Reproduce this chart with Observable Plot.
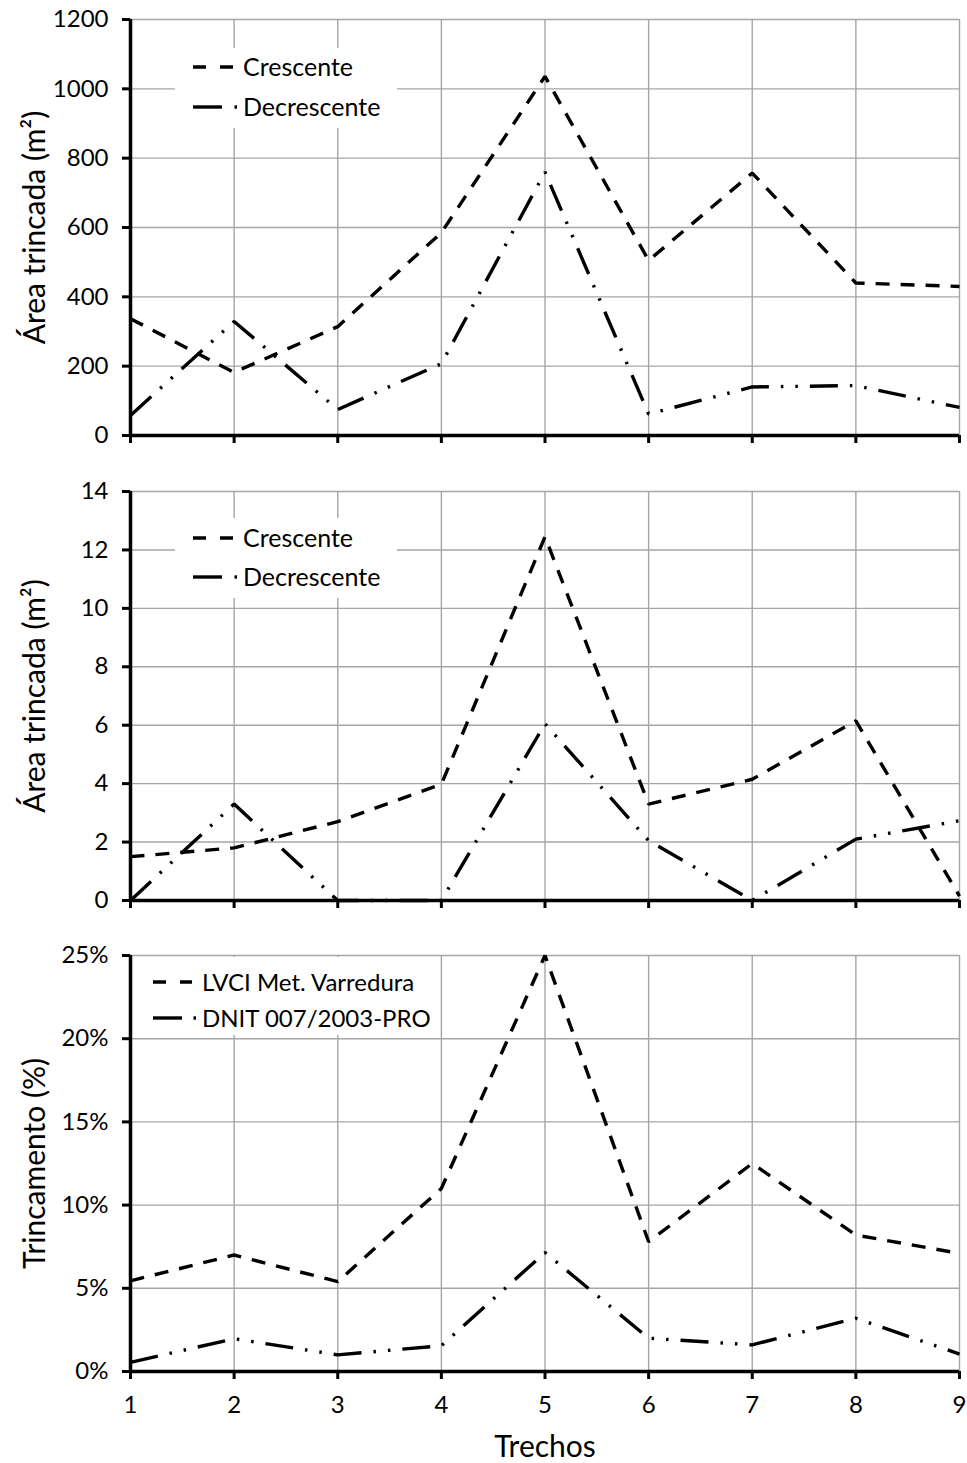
<!DOCTYPE html>
<html>
<head>
<meta charset="utf-8">
<script src="https://cdn.jsdelivr.net/npm/d3@7"></script>
<script src="https://cdn.jsdelivr.net/npm/@observablehq/plot@0.6"></script>
<style>
  html, body { margin: 0; padding: 0; background: #fff; overflow: hidden; }
  #chart svg { display: block; max-width: none; }
</style>
</head>
<body>
<div id="chart"></div>
<script>
// ---- data ----
const trechos = [1, 2, 3, 4, 5, 6, 7, 8, 9];

const area1Crescente    = [337, 182, 314, 585, 1036, 505, 757, 440, 430];
const area1Decrescente  = [58, 329, 75, 207, 760, 62, 140, 144, 81];

const area2Crescente    = [1.5, 1.8, 2.7, 3.98, 12.45, 3.3, 4.15, 6.15, 0.15];
const area2Decrescente  = [0, 3.3, 0, 0, 6.05, 2.05, 0, 2.1, 2.73];

const trincLVCI = [5.45, 7.0, 5.4, 11.0, 25.0, 7.8, 12.5, 8.2, 7.1];
const trincDNIT = [0.55, 1.97, 1.0, 1.55, 7.15, 2.0, 1.6, 3.2, 1.05];

const yTicks1 = [0, 200, 400, 600, 800, 1000, 1200];
const yTicks2 = [0, 2, 4, 6, 8, 10, 12, 14];
const yTicks3 = [0, 5, 10, 15, 20, 25];

const legend1 = ["Crescente", "Decrescente"];
const legend3 = ["LVCI Met. Varredura", "DNIT 007/2003-PRO"];

const yLabelArea = "Área trincada (m²)";
const yLabelTrinc = "Trincamento (%)";
const xLabel = "Trechos";

// ---- styles ----
const FONT = "Lato, 'Open Sans', sans-serif";
const GRID = "#a6a6a6";
const DASH_A = "14,11";
const DASH_B = "28,12,2.5,12,2.5,12";
const LW = 3.4;
const TICK_FS = 24;
const LABEL_FS = 30;
const LEGEND_FS = 25;

function toRows(vals) { return trechos.map((t, i) => ({x: t, y: vals[i]})); }

function panel({height, marginTop, marginBottom, yDomain, yTicks, yFmt, showX, yLabel, s1, s2, legendLabels, legendBox, legendRows, legendSample, legendFs}) {
  const marks = [
    Plot.gridY(yTicks, {stroke: GRID, strokeOpacity: 1, strokeWidth: 1.4}),
    Plot.gridX(trechos, {stroke: GRID, strokeOpacity: 1, strokeWidth: 1.4}),
    Plot.line(toRows(s1), {x: "x", y: "y", stroke: "black", strokeWidth: LW, strokeDasharray: DASH_A, strokeLinecap: "butt", strokeLinejoin: "miter"}),
    Plot.line(toRows(s2), {x: "x", y: "y", stroke: "black", strokeWidth: LW, strokeDasharray: DASH_B, strokeLinecap: "butt", strokeLinejoin: "miter"}),
    Plot.ruleX([1], {stroke: "black", strokeWidth: 3.5}),
    Plot.ruleY([0], {stroke: "black", strokeWidth: 3.5}),
    Plot.axisY({ticks: yTicks, tickSize: 8, strokeWidth: 3, tickPadding: 14, tickFormat: yFmt, label: null, fontSize: TICK_FS, fill: "black"}),
    Plot.axisX({ticks: trechos, tickSize: 8, strokeWidth: 3, tickPadding: 16, tickFormat: showX ? (d => String(d)) : (() => ""), label: null, fontSize: TICK_FS, fill: "black"}),
    Plot.text([yLabel], {text: d => d, frameAnchor: "left", dx: -95, rotate: -90, textAnchor: "middle", lineAnchor: "middle", fontSize: LABEL_FS, fill: "black"})
  ];
  if (showX) {
    marks.push(Plot.text([xLabel], {text: d => d, frameAnchor: "bottom", dy: 76, textAnchor: "middle", lineAnchor: "middle", fontSize: LABEL_FS, fill: "black"}));
  }
  const svg = Plot.plot({
    width: 967,
    height,
    marginLeft: 130,
    marginRight: 8,
    marginTop,
    marginBottom,
    x: {domain: [1, 9], axis: null},
    y: {domain: yDomain, axis: null},
    style: {fontFamily: FONT, fontSize: TICK_FS + "px", color: "black", background: "white"},
    marks
  });
  // legend
  const g = d3.select(svg).append("g").attr("text-anchor", "start");
  g.append("rect")
    .attr("x", legendBox[0]).attr("y", legendBox[1])
    .attr("width", legendBox[2]).attr("height", legendBox[3])
    .attr("fill", "white");
  legendLabels.forEach((lab, i) => {
    const y = legendRows[i];
    const [x0, x1, tx] = legendSample;
    if (i === 0) {
      g.append("line").attr("x1", x0).attr("x2", x1).attr("y1", y).attr("y2", y)
        .attr("stroke", "black").attr("stroke-width", LW).attr("stroke-dasharray", "13,14");
    } else {
      g.append("line").attr("x1", x0).attr("x2", x0 + 29).attr("y1", y).attr("y2", y)
        .attr("stroke", "black").attr("stroke-width", LW);
      g.append("line").attr("x1", x1 + 1.5).attr("x2", x1 + 4).attr("y1", y).attr("y2", y)
        .attr("stroke", "black").attr("stroke-width", LW);
    }
    g.append("text").attr("x", tx).attr("y", y).attr("dy", "0.36em")
      .attr("text-anchor", "start")
      .attr("font-size", legendFs).attr("font-family", FONT).attr("fill", "black").text(lab);
  });
  return svg;
}

const root = document.getElementById("chart");

root.appendChild(panel({
  height: 465, marginTop: 19, marginBottom: 30,
  yDomain: [0, 1200], yTicks: yTicks1, yFmt: d => String(d), showX: false,
  yLabel: yLabelArea, s1: area1Crescente, s2: area1Decrescente,
  legendLabels: legend1, legendBox: [175, 48, 222, 80], legendRows: [67, 107], legendSample: [193, 233, 243], legendFs: LEGEND_FS
}));

root.appendChild(panel({
  height: 465, marginTop: 26, marginBottom: 30,
  yDomain: [0, 14], yTicks: yTicks2, yFmt: d => String(d), showX: false,
  yLabel: yLabelArea, s1: area2Crescente, s2: area2Decrescente,
  legendLabels: legend1, legendBox: [175, 53, 222, 80], legendRows: [73, 112], legendSample: [193, 233, 243], legendFs: LEGEND_FS
}));

root.appendChild(panel({
  height: 533, marginTop: 25, marginBottom: 92,
  yDomain: [0, 25], yTicks: yTicks3, yFmt: d => d + "%", showX: true,
  yLabel: yLabelTrinc, s1: trincLVCI, s2: trincDNIT,
  legendLabels: legend3, legendBox: [140, 27, 296, 78], legendRows: [52, 88], legendSample: [153, 192, 202], legendFs: 24
}));
</script>
</body>
</html>
